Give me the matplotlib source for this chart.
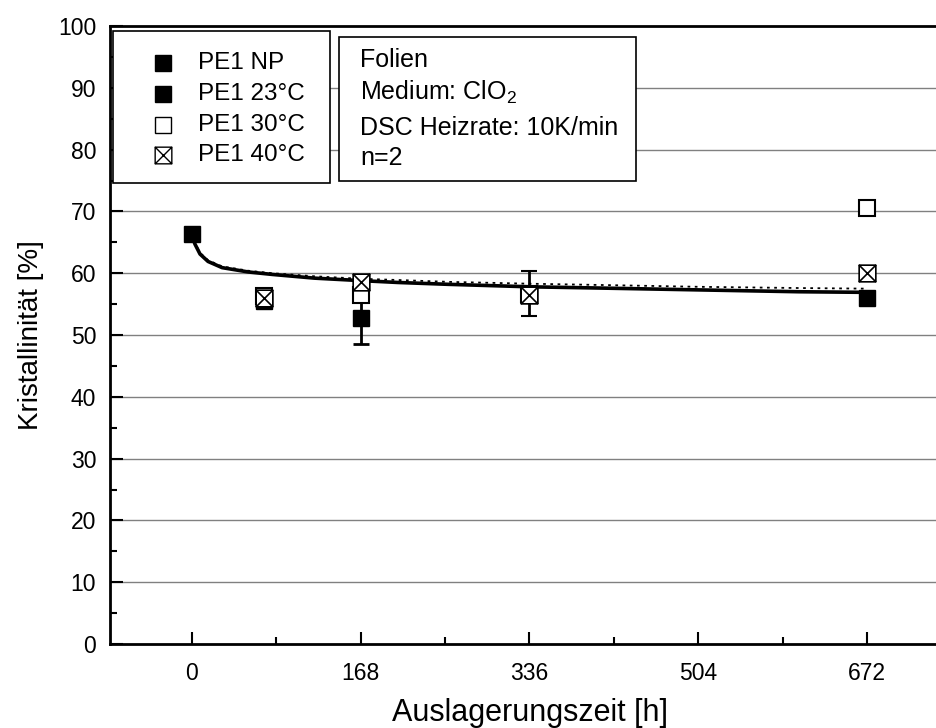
import numpy as np
import matplotlib
matplotlib.use("Agg")
import matplotlib.pyplot as plt
from matplotlib.path import Path
from matplotlib.patches import Rectangle
from matplotlib.lines import Line2D

plt.rcParams["font.family"] = ["Liberation Sans", "DejaVu Sans"]
plt.rcParams["mathtext.fontset"] = "custom"
plt.rcParams["mathtext.rm"] = "Liberation Sans"

# Messwerte (Kristallinität in %) je Auslagerungszeit
t_np = [0]
y_np = [66.3]
e_np = [1.0]

t_23 = [72, 168, 336, 672]
y_23 = [55.5, 52.8, 56.5, 56.0]
e_23 = [1.0, 4.3, 0.5, 0.3]

t_30 = [72, 168, 336, 672]
y_30 = [56.3, 56.5, 56.7, 70.5]
e_30 = [0.5, 0.8, 3.7, 0.5]

t_40 = [72, 168, 336, 672]
y_40 = [56.0, 58.5, 56.5, 60.0]
e_40 = [0.5, 0.5, 0.5, 0.5]

# Ausgleichskurven
fit_t = [0, 1, 3, 8, 16, 30, 56, 80, 122, 168, 205, 255, 336, 405, 504, 604, 672]
fit_a = [66.3, 65.6, 64.7, 63.1, 61.9, 60.9, 60.2, 59.8, 59.2, 58.8, 58.5, 58.2, 57.8, 57.6, 57.3, 57.0, 56.9]
fit_b = [66.3, 65.7, 64.9, 63.3, 62.1, 61.1, 60.4, 60.0, 59.5, 59.1, 58.9, 58.6, 58.3, 58.1, 57.8, 57.6, 57.5]

xticks = [0, 168, 336, 504, 672]

# Quadrat mit Kreuz als Marker
box_x = Path([(-1, -1), (1, -1), (1, 1), (-1, 1), (-1, -1),
              (-1, -1), (1, 1), (-1, 1), (1, -1)],
             [Path.MOVETO, Path.LINETO, Path.LINETO, Path.LINETO, Path.CLOSEPOLY,
              Path.MOVETO, Path.LINETO, Path.MOVETO, Path.LINETO])

W, H = 937, 728
fig = plt.figure(figsize=(W / 100, H / 100), dpi=100)
ax = fig.add_axes([110 / W, (H - 644) / H, 840 / W, 618 / H])

for y in range(10, 100, 10):
    ax.axhline(y, color="#808080", lw=1.0, zorder=0)

ax.plot(fit_t, fit_b, color="black", lw=1.3, ls=(0, (1.5, 2.5)), zorder=2)
ax.plot(fit_t, fit_a, color="black", lw=2.6, zorder=2)

ms = 12
kw = dict(ecolor="black", elinewidth=2, capsize=6, capthick=2, ls="none", zorder=3)
ax.errorbar(t_23, y_23, yerr=e_23, marker="s", ms=ms, mfc="black", mec="black", **kw)
ax.errorbar(t_30, y_30, yerr=e_30, marker="s", ms=ms, mfc="white", mec="black", mew=1.5, **kw)
ax.errorbar(t_40, y_40, yerr=e_40, marker=box_x, ms=ms, mfc="white", mec="black", mew=1.2, **kw)
ax.errorbar(t_np, y_np, yerr=e_np, marker="s", ms=ms, mfc="black", mec="black", **kw)

ax.set_xlim(-81.6, 754.6)
ax.set_ylim(0, 100)
ax.set_xticks(xticks)
ax.set_xticks([84, 252, 420, 588], minor=True)
ax.set_yticks(range(0, 101, 10))
ax.set_yticks(range(5, 100, 10), minor=True)
ax.tick_params(direction="in", which="major", length=9, width=1.5, labelsize=16.5, pad=10)
ax.tick_params(direction="in", which="minor", length=5, width=1.5)
ax.tick_params(axis="x", pad=13)
ax.spines["right"].set_visible(False)
for s in ["left", "bottom", "top"]:
    ax.spines[s].set_linewidth(2)
ax.set_xlabel("Auslagerungszeit [h]", fontsize=22, labelpad=9)
ax.set_ylabel("Kristallinität [%]", fontsize=20, labelpad=10)


def fx(px):
    return px / W


def fy(py):
    return 1 - py / H


# Legende
fig.add_artist(Rectangle((fx(113), fy(183)), fx(330) - fx(113), fy(31) - fy(183),
                         transform=fig.transFigure, facecolor="white", edgecolor="black", lw=1.2))
entries = [("PE1 NP", "s", "black"), ("PE1 23°C", "s", "black"),
           ("PE1 30°C", "s", "white"), ("PE1 40°C", box_x, "white")]
for i, (lab, mk, fc) in enumerate(entries):
    py = 63 + i * 30.8
    fig.add_artist(Line2D([fx(163)], [fy(py)], marker=mk, ms=12, mfc=fc, mec="black",
                          mew=1.0, ls="none", transform=fig.transFigure))
    fig.text(fx(198), fy(py), lab, fontsize=17.5, va="center", ha="left")

# Versuchsbedingungen
fig.add_artist(Rectangle((fx(339), fy(181)), fx(636) - fx(339), fy(37) - fy(181),
                         transform=fig.transFigure, facecolor="white", edgecolor="black", lw=1.2))
info = [("Folien", 60), ("Medium: ClO$_2$", 92), ("DSC Heizrate: 10K/min", 128), ("n=2", 158)]
for txt, py in info:
    fig.text(fx(360), fy(py), txt, fontsize=18, va="center", ha="left")

fig.savefig("out.png", dpi=100)
